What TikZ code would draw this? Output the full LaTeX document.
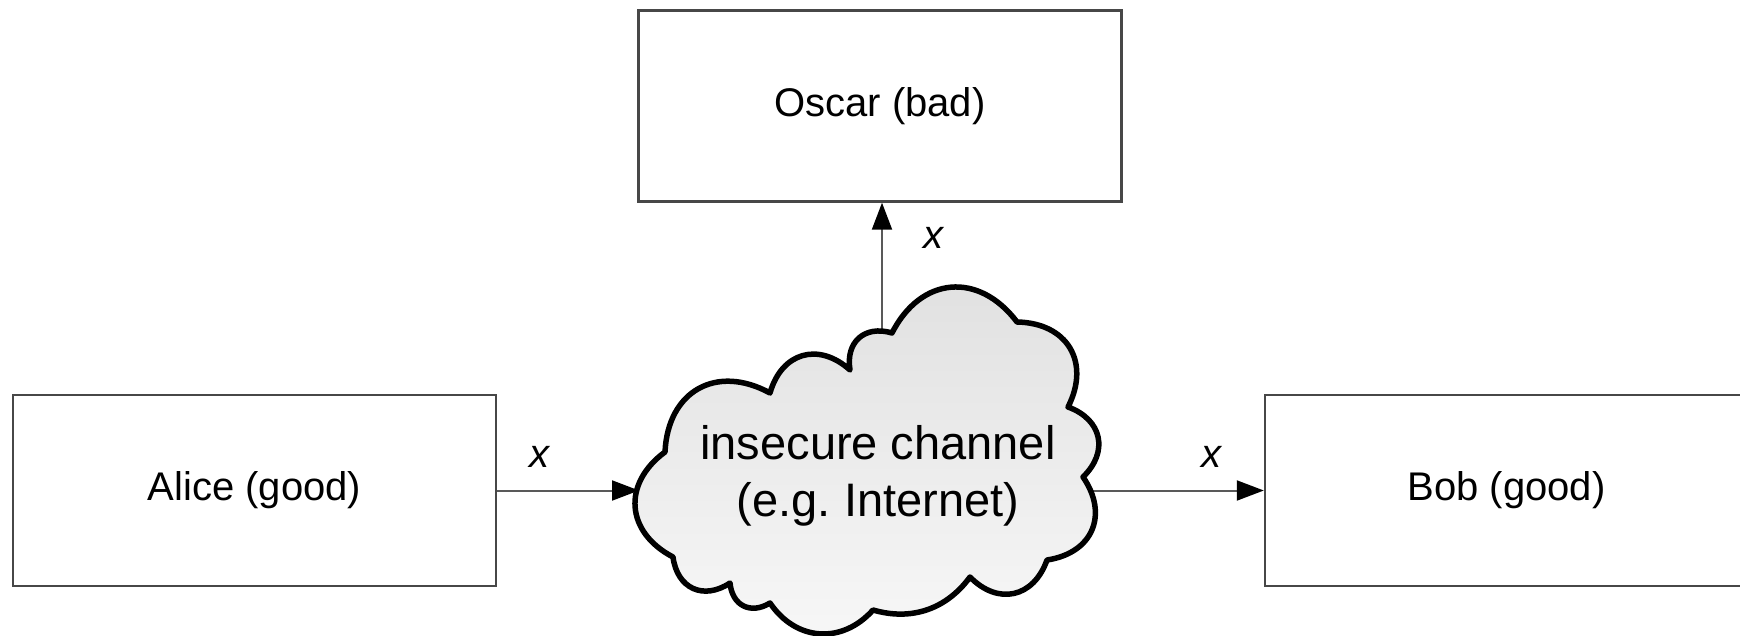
\documentclass[tikz,border=0pt]{standalone}
\usepackage{fontspec}
\setmainfont{Liberation Sans}
\usetikzlibrary{arrows.meta}
\begin{document}
\frenchspacing
\begin{tikzpicture}[x=1pt,y=-1pt,
  box/.style={draw=black!72, line width=2.4pt, minimum width=483pt, minimum height=191pt, inner sep=0pt, font=\fontsize{40}{48}\selectfont},
  conn/.style={draw=black!65, line width=2pt, -{Triangle[length=27pt,width=20pt,color=black]}},
  lbl/.style={font=\fontsize{40}{48}\selectfont\itshape, inner sep=0pt},
  lobe/.style={bend left=58, looseness=1.3}]
\useasboundingbox (0,0) rectangle (1740,636);
\clip (0,0) rectangle (1740,636);
\node[box] (alice) at (254.5,490.5) {Alice (good)};
\node[box] (oscar) at (880,106) {Oscar (bad)};
\node[box] (bob) at (1506.5,490.5) {Bob (good)};
\coordinate (cin) at (639,490.5);
\coordinate (cout) at (1082,490.5);
\coordinate (ctop) at (882,330);
\draw[conn] (alice.east) -- (cin) node[lbl, pos=0.3, above=22pt] {x};
\draw[conn] (cout) -- (bob.west) node[lbl, pos=0.71, above=22pt] {x};
\draw[conn] (ctop) -- (ctop |- oscar.south) node[lbl, pos=0.72, right=40pt] {x};
\path[draw=black, line width=5.5pt, top color=black!12, bottom color=black!3, line join=round]
 (673,557) to[lobe] (665,452) to[lobe] (770,393) to[lobe] (850,370) to[lobe] (892,333)
 to[lobe] (1017,322) to[lobe] (1068,407) to[lobe] (1083,477) to[lobe] (1047,560)
 to[lobe] (970,577) to[bend left=35] (873,610) to[bend left=52, looseness=1.15] (770,603)
 to[lobe] (730,583) to[lobe] (673,557) -- cycle;
\node[align=center, font=\fontsize{47}{57}\selectfont] (channel) at (878,476) {insecure channel\\(e.g. Internet)};
\end{tikzpicture}
\end{document}
